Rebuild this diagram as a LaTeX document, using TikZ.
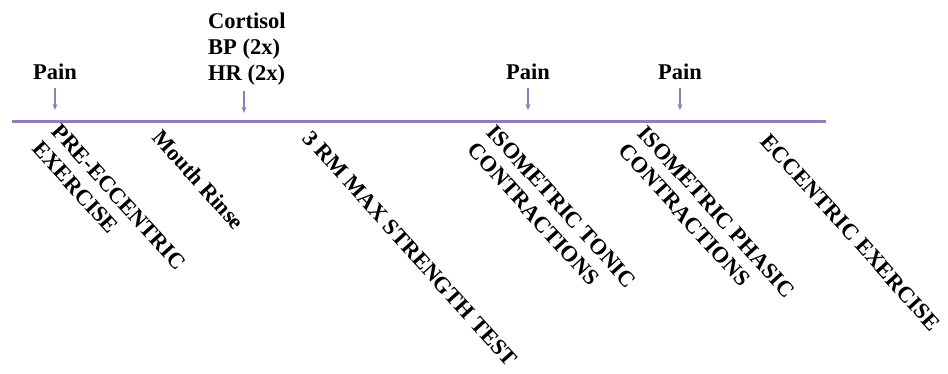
\documentclass[tikz,border=0pt]{standalone}
\usepackage{fontspec}
\setmainfont{Liberation Serif}
\usetikzlibrary{arrows.meta}
\definecolor{tlpurple}{RGB}{148,122,184}

\begin{document}
\begin{tikzpicture}[x=1pt, y=1pt,
    every node/.style={font=\fontsize{22.5}{26}\selectfont\bfseries, inner sep=0pt},
    stage/.style={rotate=-48, anchor=north west, align=left},
    marr/.style={tlpurple, line width=1.5pt, -{Stealth[length=6pt,width=5pt]}}
]
\useasboundingbox (0,0) rectangle (948,374);
\draw[tlpurple, line width=3pt] (12,252) -- (826,252);
% measurements above the line
\foreach \n/\x in {p1/55,p3/528,p4/680} {
  \node[anchor=base] (\n) at (\x,294) {Pain};
  \coordinate (\n-a) at (\x,264);
  \draw[marr, shorten <=8pt] (\n) -- (\n-a);
}
\node[anchor=north west, align=left] (cort) at (208,361) {Cortisol\\BP (2x)\\HR (2x)};
\coordinate (cort-a) at (244,261);
\draw[marr, shorten <=5pt] (cort.south -| cort-a) -- (cort-a);
% stages below the line
\node[stage] (s1) at (62,252) {PRE-ECCENTRIC\\EXERCISE};
\node[stage] (s2) at (163,246) {Mouth Rinse};
\node[stage] (s3) at (313,245) {3 RM MAX STRENGTH TEST};
\node[stage] (s4) at (497,251) {ISOMETRIC TONIC\\CONTRACTIONS};
\node[stage] (s5) at (648,250) {ISOMETRIC PHASIC\\CONTRACTIONS};
\node[stage] (s6) at (771,242) {ECCENTRIC EXERCISE};
\end{tikzpicture}
\end{document}
